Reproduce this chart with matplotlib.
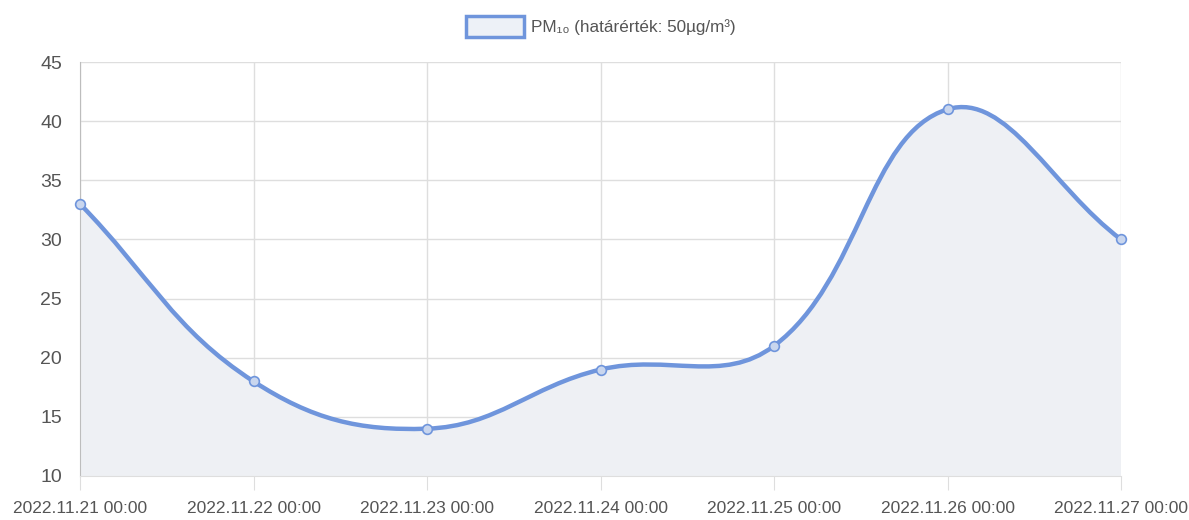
import matplotlib
matplotlib.use('Agg')
import matplotlib.pyplot as plt
from matplotlib.path import Path
from matplotlib.patches import PathPatch, Rectangle
import numpy as np

plt.rcParams['font.family'] = ['Liberation Sans', 'DejaVu Sans']

dates = ['2022.11.21 00:00', '2022.11.22 00:00', '2022.11.23 00:00', '2022.11.24 00:00',
         '2022.11.25 00:00', '2022.11.26 00:00', '2022.11.27 00:00']
pm10 = [33, 18, 14, 19, 21, 41, 30]
label = 'PM\u2081\u2080 (határérték: 50µg/m³)'

line_color = '#6f95dc'
fill_color = '#eef0f4'
grid_color = '#dedede'
text_color = '#555555'

fig = plt.figure(figsize=(11.89, 5.2), dpi=100)
ax = fig.add_axes([80 / 1189, 1 - 476 / 520, (1121 - 80) / 1189, (476 - 62) / 520])
ax.set_xlim(0, len(dates) - 1)
ax.set_ylim(10, 45)


# chart.js-like spline (tension 0.4), computed in pixel space
def spline_path(xs, ys, tension=0.4):
    pts = ax.transData.transform(np.column_stack([xs, ys]))
    n = len(pts)
    verts = [pts[0]]
    codes = [Path.MOVETO]
    cps = []
    for i in range(n):
        prev = pts[max(i - 1, 0)]
        cur = pts[i]
        nxt = pts[min(i + 1, n - 1)]
        d01 = np.hypot(*(cur - prev))
        d12 = np.hypot(*(nxt - cur))
        tot = d01 + d12
        s01 = d01 / tot if tot else 0
        s12 = d12 / tot if tot else 0
        cps.append((cur - tension * s01 * (nxt - prev), cur + tension * s12 * (nxt - prev)))
    for i in range(1, n):
        verts += [cps[i - 1][1], cps[i][0], pts[i]]
        codes += [Path.CURVE4] * 3
    verts = ax.transData.inverted().transform(np.array(verts))
    return verts, codes


verts, codes = spline_path(np.arange(len(pm10)), pm10)

# filled area below curve
fill_verts = np.vstack([verts, [[len(pm10) - 1, 10], [0, 10], verts[0]]])
fill_codes = codes + [Path.LINETO, Path.LINETO, Path.CLOSEPOLY]
ax.add_patch(PathPatch(Path(fill_verts, fill_codes), facecolor=fill_color, edgecolor='none', zorder=1))
ax.add_patch(PathPatch(Path(verts, codes), facecolor='none', edgecolor=line_color, lw=3.2, zorder=3))
ax.plot(range(len(pm10)), pm10, 'o', ms=7, mfc='#c9d6ee', mec=line_color, mew=1.2, zorder=4, clip_on=False)

ax.set_xticks(range(len(dates)))
ax.set_xticklabels(dates)
ax.set_yticks(range(10, 50, 5))
ax.grid(True, color=grid_color, lw=1)
ax.set_axisbelow(True)
for s in ['top', 'right']:
    ax.spines[s].set_visible(False)
ax.spines['left'].set_color('#bdbdbd')
ax.spines['bottom'].set_color(grid_color)
ax.tick_params(axis='x', length=10, color=grid_color, labelsize=12.5, labelcolor=text_color, pad=8)
ax.tick_params(axis='y', length=0, labelsize=14, labelcolor=text_color, pad=13)

# legend
fig.patches.append(Rectangle((466 / 1189, 1 - 37 / 520), 58 / 1189, 21 / 520, transform=fig.transFigure,
                             facecolor='#edf1f7', edgecolor=line_color, lw=2.5))
fig.text(531 / 1189, 1 - 27 / 520, label, fontsize=12.3, color=text_color, va='center', ha='left')

fig.savefig('out.png', dpi=100, facecolor='white')
